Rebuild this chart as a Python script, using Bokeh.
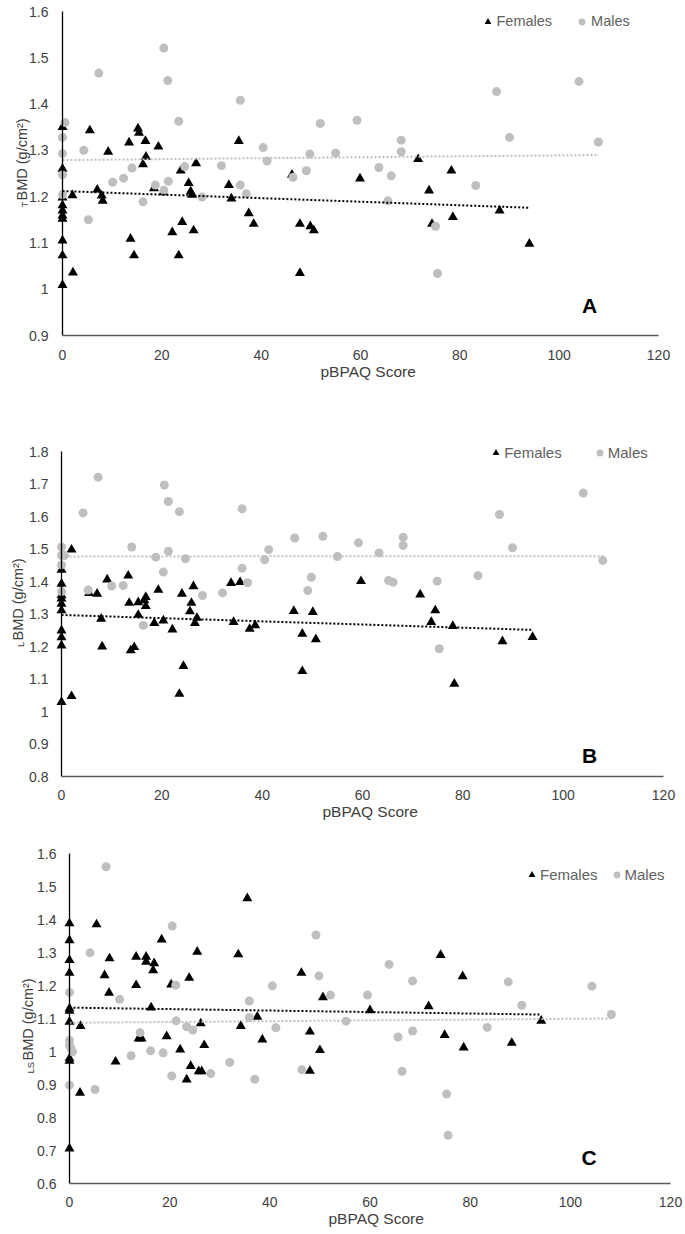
import numpy as np
from bokeh.plotting import figure
from bokeh.models import (Range1d, FixedTicker, CustomJSTickFormatter, Label,
                          Legend, LegendItem, LinearAxis, Title)
from bokeh.layouts import column
from bokeh.embed import file_html
from bokeh.resources import INLINE

# ---------------- data ----------------
x_ticks = [0, 20, 40, 60, 80, 100, 120]
a_y_ticks = [0.9, 1.0, 1.1, 1.2, 1.3, 1.4, 1.5, 1.6]
b_y_ticks = [0.8, 0.9, 1.0, 1.1, 1.2, 1.3, 1.4, 1.5, 1.6, 1.7, 1.8]
c_y_ticks = [0.6, 0.7, 0.8, 0.9, 1.0, 1.1, 1.2, 1.3, 1.4, 1.5, 1.6]

# Panel A  (TBMD)
a_female_x = [0, 0, 0, 0, 0, 0, 0, 0, 0, 0,
              2.0, 2.1, 5.5, 7.0, 7.9, 8.1, 9.2, 13.4, 13.7, 14.4, 15.2, 15.4, 16.2, 16.7, 16.8,
              18.4, 19.3, 20.3, 22.1, 23.4, 23.8, 24.1, 25.4, 25.8, 26.1, 26.4, 26.9, 33.5, 34.0,
              35.5, 37.5, 38.5, 46.2, 47.8, 47.8, 49.9, 50.6, 59.9, 71.6, 73.8, 74.4, 78.3, 78.6,
              88.0, 94.0]
a_female_y = [1.35, 1.26, 1.198, 1.181, 1.17, 1.159, 1.152, 1.105, 1.073, 1.009,
              1.203, 1.036, 1.343, 1.215, 1.202, 1.191, 1.297, 1.317, 1.109, 1.073, 1.347, 1.338, 1.27, 1.32, 1.286,
              1.218, 1.308, 1.209, 1.123, 1.073, 1.256, 1.145, 1.229, 1.211, 1.204, 1.127, 1.272, 1.225, 1.196,
              1.32, 1.164, 1.141, 1.247, 1.141, 1.035, 1.136, 1.127, 1.239, 1.281, 1.213, 1.141, 1.256, 1.156,
              1.17, 1.098]
a_male_x = [0.5, 0, 0, 0, 0, 4.3, 5.2, 7.3, 10.1, 12.3, 14.0, 16.2, 18.7, 20.4, 20.4, 21.2, 21.3,
            23.4, 24.6, 28.1, 32.0, 35.8, 35.8, 37.0, 40.4, 41.2, 46.4, 49.1, 49.8, 51.9, 55.0,
            59.3, 63.7, 65.5, 66.2, 68.2, 68.2, 75.1, 75.5, 83.2, 87.4, 90.0, 104.0, 107.9]
a_male_y = [1.36, 1.328, 1.293, 1.247, 1.204, 1.30, 1.15, 1.467, 1.231, 1.24, 1.262, 1.189, 1.225, 1.521, 1.214, 1.451, 1.233,
            1.363, 1.265, 1.199, 1.267, 1.408, 1.225, 1.206, 1.306, 1.277, 1.242, 1.256, 1.292, 1.358, 1.294,
            1.365, 1.263, 1.191, 1.245, 1.322, 1.297, 1.136, 1.034, 1.224, 1.427, 1.328, 1.449, 1.318]
a_female_trend_x = [0, 94]
a_female_trend_y = [1.212, 1.176]
a_male_trend_x = [0, 108]
a_male_trend_y = [1.279, 1.290]

# Panel B  (LBMD)
b_female_x = [0, 0, 0, 0, 0, 0, 0, 0, 0, 0,
              2.0, 2.0, 5.5, 7.1, 7.9, 8.1, 9.1, 13.3, 13.5, 13.8, 14.5, 15.3, 15.3, 16.5, 16.8, 16.8,
              18.5, 19.3, 20.3, 22.1, 23.5, 24.0, 24.3, 25.6, 25.9, 26.3, 26.6, 27.0, 33.8, 34.3,
              35.6, 37.5, 38.6, 46.3, 48.0, 48.0, 50.1, 50.7, 59.7, 71.5, 73.7, 74.5, 78.0, 78.3,
              87.9, 93.9]
b_female_y = [1.436, 1.393, 1.357, 1.347, 1.331, 1.311, 1.249, 1.228, 1.203, 1.029,
              1.498, 1.047, 1.364, 1.362, 1.285, 1.2, 1.406, 1.418, 1.334, 1.188, 1.198, 1.297, 1.336, 1.342, 1.352, 1.324,
              1.272, 1.374, 1.28, 1.252, 1.054, 1.362, 1.14, 1.308, 1.334, 1.385, 1.272, 1.288, 1.395, 1.275,
              1.398, 1.254, 1.265, 1.309, 1.239, 1.124, 1.306, 1.222, 1.401, 1.36, 1.275, 1.311, 1.263, 1.085,
              1.216, 1.229]
b_male_x = [0, 0, 0.6, 0, 0, 4.3, 5.3, 7.3, 10.0, 12.3, 14.0, 16.3, 18.8, 20.3, 20.5, 21.3, 21.3,
            23.5, 24.7, 28.1, 32.1, 36.0, 36.0, 37.1, 40.5, 41.3, 46.5, 49.1, 49.8, 52.1, 55.0,
            59.2, 63.3, 65.2, 66.1, 68.1, 68.1, 74.9, 75.3, 83.0, 87.3, 89.9, 104.0, 107.9]
b_male_y = [1.506, 1.48, 1.48, 1.451, 1.369, 1.611, 1.374, 1.721, 1.386, 1.388, 1.506, 1.265, 1.475, 1.429, 1.697, 1.646, 1.493,
            1.615, 1.47, 1.357, 1.365, 1.624, 1.441, 1.396, 1.467, 1.498, 1.534, 1.372, 1.413, 1.539, 1.477,
            1.519, 1.488, 1.403, 1.398, 1.536, 1.511, 1.401, 1.193, 1.418, 1.606, 1.504, 1.672, 1.465]
b_female_trend_x = [0, 94]
b_female_trend_y = [1.297, 1.251]
b_male_trend_x = [0, 108]
b_male_trend_y = [1.477, 1.478]

# Panel C  (LSBMD)
c_female_x = [0, 0, 0, 0, 0, 0, 0, 0, 0, 0,
              2.1, 2.2, 5.4, 7.0, 7.9, 8.0, 9.2, 13.3, 13.3, 13.8, 14.4, 15.3, 15.3, 16.3, 16.7, 16.9,
              18.4, 19.4, 20.3, 22.1, 23.4, 23.9, 24.2, 25.5, 25.8, 26.4, 26.2, 26.9, 33.7, 34.2,
              35.5, 37.5, 38.5, 46.3, 48.0, 48.0, 50.0, 50.6, 60.0, 71.7, 74.1, 74.9, 78.5, 78.7,
              88.3, 94.2]
c_female_y = [1.388, 1.337, 1.277, 1.238, 1.13, 1.123, 1.09, 0.979, 0.972, 0.706,
              0.875, 1.077, 1.385, 1.231, 1.178, 1.282, 0.969, 1.287, 1.201, 1.039, 1.039, 1.287, 1.272, 1.133, 1.246, 1.267,
              1.339, 1.046, 1.203, 1.006, 0.915, 1.223, 0.956, 1.302, 0.94, 0.94, 1.085, 1.019, 1.294, 1.077,
              1.464, 1.105, 1.036, 1.238, 1.06, 0.941, 1.004, 1.164, 1.125, 1.137, 1.292, 1.05, 1.228, 1.012,
              1.026, 1.093]
c_male_x = [0, 0, 0, 0.3, 0.6, 0, 4.1, 5.1, 7.3, 10.0, 12.3, 14.1, 16.2, 18.7, 20.4, 20.5, 21.2, 21.3,
            23.4, 24.6, 28.2, 32.0, 35.9, 35.9, 37.0, 40.5, 41.2, 46.4, 49.2, 49.8, 52.1, 55.2,
            59.5, 63.8, 65.6, 66.4, 68.5, 68.5, 75.3, 75.6, 83.4, 87.6, 90.3, 104.3, 108.2]
c_male_y = [1.179, 1.034, 1.019, 1.009, 0.999, 0.898, 1.299, 0.885, 1.56, 1.158, 0.987, 1.057, 1.002, 0.996, 0.926, 1.38, 1.201, 1.093,
            1.075, 1.065, 0.933, 0.967, 1.153, 1.103, 0.916, 1.199, 1.072, 0.945, 1.353, 1.229, 1.171, 1.092,
            1.171, 1.264, 1.044, 0.94, 1.214, 1.062, 0.871, 0.746, 1.073, 1.211, 1.14, 1.198, 1.112]
c_female_trend_x = [0, 94]
c_female_trend_y = [1.133, 1.112]
c_male_trend_x = [0, 108]
c_male_trend_y = [1.087, 1.100]

x_title = "pBPAQ Score"
legend_labels = ["Females", "Males"]
panel_letters = ["A", "B", "C"]
y_label_main = "BMD (g/cm\u00b2)"
y_label_subs = ["T", "L", "LS"]

# ---------------- styling ----------------
FONT = "Liberation Sans"
TXT = "#404040"
FEMALE = "#000000"
MALE = "#BFBFBF"


def make_panel(fx, fy, mx, my, ftx, fty, mtx, mty, yb, yticks, letter, sub, cfg):
    p = figure(width=685, height=cfg["height"], output_backend="svg", toolbar_location=None,
               x_range=Range1d(cfg["x_start"], cfg["x_end"]), y_range=Range1d(yb[0], cfg["y_end"]),
               min_border_top=0, min_border_bottom=cfg["bottom"],
               min_border_left=0, min_border_right=15)
    p.outline_line_color = None
    p.grid.visible = False
    p.background_fill_color = "white"
    p.border_fill_color = "white"

    rf = p.scatter(fx, fy, marker="triangle", size=10, fill_color=FEMALE, line_color=None)
    rm = p.scatter(mx, my, marker="circle", size=9, fill_color=MALE, line_color=None)
    p.line(ftx, fty, line_color=FEMALE, line_width=2, line_dash="2 2")
    p.line(mtx, mty, line_color=MALE, line_width=2, line_dash="2 2")

    # x axis (at frame bottom = y minimum)
    xa = p.xaxis[0]
    xa.ticker = FixedTicker(ticks=x_ticks)
    xa.bounds = (0, 120)
    xa.axis_line_color = "#595959"
    xa.axis_line_width = 1.3
    xa.major_tick_out = 0
    xa.major_tick_in = 0
    xa.minor_tick_out = 0
    xa.minor_tick_in = 0
    xa.major_label_standoff = cfg["xlab_standoff"]
    xa.major_label_text_font = FONT
    xa.major_label_text_font_size = "14px"
    xa.major_label_text_color = TXT
    xa.axis_label = None
    xa.axis_label_standoff = 0
    xa.axis_label_text_font_size = "0px"

    # y tick labels (standard left axis, labels pulled into the plot area)
    ya = p.yaxis[0]
    ya.ticker = FixedTicker(ticks=yticks)
    ya.formatter = CustomJSTickFormatter(code="return String(Math.round(tick * 10) / 10);")
    ya.axis_line_color = None
    ya.major_tick_out = 0
    ya.major_tick_in = 0
    ya.minor_tick_out = 0
    ya.minor_tick_in = 0
    ya.major_label_standoff = -cfg["ylab_right"]
    ya.major_label_text_font = FONT
    ya.major_label_text_font_size = "14px"
    ya.major_label_text_color = TXT
    ya.axis_label = None
    ya.axis_label_standoff = 0
    ya.axis_label_text_font_size = "0px"

    # y axis line at pBPAQ = 0
    yline = LinearAxis(fixed_location=0, bounds=yb, ticker=FixedTicker(ticks=[]),
                       axis_line_color="black", axis_line_width=1.3,
                       major_tick_out=0, major_tick_in=0, minor_tick_out=0, minor_tick_in=0,
                       major_label_standoff=0, major_label_text_font_size="0px",
                       axis_label=None, axis_label_standoff=0, axis_label_text_font_size="0px")
    p.add_layout(yline, "left")

    # x-axis title
    p.add_layout(Title(text=x_title, align="left", offset=cfg["title_offset"],
                       standoff=0, vertical_align="top",
                       padding=(cfg["title_pad"], 0, 0, 0),
                       text_font=FONT, text_font_size="15.5px", text_font_style="normal",
                       text_color=TXT), "below")

    # y-axis title: main text + subscript (rotated)
    p.add_layout(Label(x=cfg["ylab"][0], y=cfg["ylab"][1], x_units="screen", y_units="screen",
                       text=y_label_main, angle=np.pi / 2, text_align="left",
                       text_baseline="alphabetic", text_font=FONT,
                       text_font_size="14.5px", text_color=TXT))
    p.add_layout(Label(x=cfg["sub"][0], y=cfg["sub"][1], x_units="screen", y_units="screen",
                       text=sub, angle=np.pi / 2, text_align="left",
                       text_baseline="alphabetic", text_font=FONT,
                       text_font_size="9.5px", text_color=TXT))

    # panel letter
    p.add_layout(Label(x=cfg["letter"][0], y=cfg["letter"][1], x_units="screen", y_units="screen",
                       text=letter, text_align="center", text_baseline="middle",
                       text_font=FONT, text_font_size="21px", text_font_style="bold",
                       text_color="black"))

    legend = Legend(items=[LegendItem(label=legend_labels[0], renderers=[rf]),
                           LegendItem(label=legend_labels[1], renderers=[rm])],
                    location=cfg["legend"], orientation="horizontal",
                    glyph_width=17, glyph_height=17, label_height=17, label_width=10,
                    label_standoff=cfg["leg_standoff"], spacing=cfg["leg_spacing"],
                    padding=0, margin=0, border_line_color=None,
                    background_fill_alpha=0, label_text_font=FONT,
                    label_text_font_size=cfg["leg_font"], label_text_color="#5f5f5f")
    p.add_layout(legend)
    return p


# plot frames span x = 0..670 px of each figure; ranges chosen so that
# pBPAQ 0 and 120 fall where the reference draws them
cfgA = dict(height=405, bottom=70, x_start=-12.483, x_end=122.416, y_end=1.62377,
            xlab_standoff=14, ylab_right=48, title_offset=312, title_pad=8,
            ylab=(21, 135), sub=(23.5, 128), letter=(589, 30.5),
            legend=(478.5, 305.5), leg_standoff=1, leg_spacing=21, leg_font="14.5px")
cfgB = dict(height=423, bottom=52, x_start=-12.159, x_end=121.395, y_end=1.94154,
            xlab_standoff=13, ylab_right=48, title_offset=315, title_pad=7,
            ylab=(17.5, 136), sub=(20, 129.5), letter=(589, 21),
            legend=(487.2, 315.2), leg_standoff=0, leg_spacing=29, leg_font="15px")
cfgC = dict(height=406, bottom=51, x_start=-13.777, x_end=120.0, y_end=1.67576,
            xlab_standoff=13, ylab_right=56, title_offset=325, title_pad=3,
            ylab=(27, 123), sub=(29.5, 110), letter=(588.7, 26),
            legend=(523, 300.5), leg_standoff=0, leg_spacing=10, leg_font="15px")

pA = make_panel(a_female_x, a_female_y, a_male_x, a_male_y,
                a_female_trend_x, a_female_trend_y, a_male_trend_x, a_male_trend_y,
                (0.9, 1.6), a_y_ticks, panel_letters[0], y_label_subs[0], cfgA)
pB = make_panel(b_female_x, b_female_y, b_male_x, b_male_y,
                b_female_trend_x, b_female_trend_y, b_male_trend_x, b_male_trend_y,
                (0.8, 1.8), b_y_ticks, panel_letters[1], y_label_subs[1], cfgB)
pC = make_panel(c_female_x, c_female_y, c_male_x, c_male_y,
                c_female_trend_x, c_female_trend_y, c_male_trend_x, c_male_trend_y,
                (0.6, 1.6), c_y_ticks, panel_letters[2], y_label_subs[2], cfgC)

layout = column(pA, pB, pC)
open("out.html", "w").write(file_html(layout, INLINE))
